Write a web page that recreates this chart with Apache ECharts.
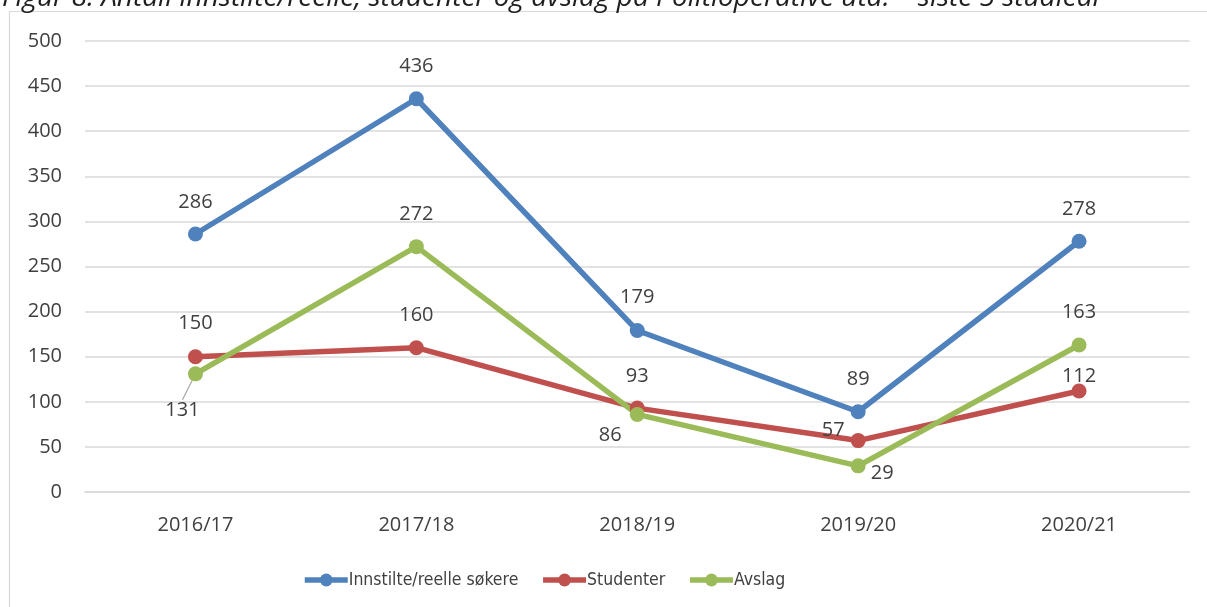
<!DOCTYPE html>
<html>
<head>
<meta charset="utf-8">
<script src="https://cdn.jsdelivr.net/npm/echarts@6/dist/echarts.min.js"></script>
<style>
html,body{margin:0;padding:0;background:#fff;}
#c{width:1207px;height:607px;}
</style>
</head>
<body>
<div id="c"></div>
<script>
const titleText = 'Figur 8: Antall innstilte/reelle, studenter og avslag på Politioperative utd. – siste 5 studieår';
const categories = ['2016/17', '2017/18', '2018/19', '2019/20', '2020/21'];
const seriesNames = ['Innstilte/reelle søkere', 'Studenter', 'Avslag'];
const innstilte = [286, 436, 179, 89, 278];
const studenter = [150, 160, 93, 57, 112];
const avslag = [131, 272, 86, 29, 163];
const yTicks = [0, 50, 100, 150, 200, 250, 300, 350, 400, 450, 500];

const colors = ['#4F81BD', '#C0504D', '#9BBB59'];
const FONT = "'Open Sans', sans-serif";
const NARROW = "'Liberation Sans Narrow', 'DejaVu Sans Condensed', sans-serif";
const TXT = '#404040';

// label offsets relative to the point (label center)
const labelOffsets = [
  [[0,-32],[0,-32],[0,-33],[0,-32],[0,-32]],
  [[0,-33],[0,-32],[0,-32],[-25,-10],[0,-15]],
  [[-13,36],[0,-32],[-27,21],[24,7],[0,-33]]
];
const leaderLines = [
  [false, false, false, false, false],
  [false, false, false, false, false],
  [true, false, false, false, false]
];

function series(idx, vals) {
  const color = colors[idx];
  return {
    name: seriesNames[idx],
    type: 'line',
    data: vals.map((v, i) => {
      const d = { value: v };
      if (leaderLines[idx][i]) {
        d.labelLine = { show: true, lineStyle: { color: '#A6A6A6', width: 1.2 } };
      }
      return d;
    }),
    symbol: 'circle',
    symbolSize: 15,
    lineStyle: { width: 5.5, color: color },
    itemStyle: { color: color },
    label: {
      show: true,
      position: 'inside',
      color: TXT,
      fontFamily: FONT,
      fontSize: 20,
      textBorderWidth: 0
    },
    labelLayout: function (p) {
      const o = labelOffsets[idx][p.dataIndex];
      return { dx: o[0], dy: o[1] };
    },
    emphasis: { disabled: true },
    animation: false
  };
}

const chart = echarts.init(document.getElementById('c'), null, { renderer: 'canvas' });
chart.setOption({
  backgroundColor: '#fff',
  animation: false,
  title: {
    text: titleText,
    left: -3,
    top: -21,
    textStyle: { fontFamily: FONT, fontStyle: 'italic', fontWeight: 'normal', fontSize: 28, color: '#1F1F1F' }
  },
  graphic: [{
    type: 'rect',
    shape: { x: 9.5, y: 11.5, width: 1220, height: 620 },
    style: { fill: null, stroke: '#D9D9D9', lineWidth: 1.2 },
    silent: true,
    z: -1
  }],
  grid: { left: 85, right: 17.5, top: 41, bottom: 115, containLabel: false },
  legend: {
    bottom: 13,
    left: 297,
    itemWidth: 43,
    itemHeight: 16,
    itemGap: 22,
    lineStyle: { width: 5.5 },
    textStyle: { fontFamily: NARROW, fontSize: 17.5, color: TXT, padding: [0, 0, 0, -4] },
    data: seriesNames
  },
  xAxis: {
    type: 'category',
    data: categories,
    boundaryGap: true,
    axisLine: { show: true, lineStyle: { color: '#D9D9D9', width: 1.5 } },
    axisTick: { show: false },
    axisLabel: { color: TXT, fontFamily: FONT, fontSize: 20, margin: 23 }
  },
  yAxis: {
    type: 'value',
    min: yTicks[0],
    max: yTicks[yTicks.length - 1],
    interval: 50,
    axisLine: { show: false },
    axisTick: { show: false },
    splitLine: { lineStyle: { color: '#D9D9D9', width: 1.5 } },
    axisLabel: { color: TXT, fontFamily: FONT, fontSize: 20, margin: 23 }
  },
  series: [
    series(0, innstilte),
    series(1, studenter),
    series(2, avslag)
  ]
});
</script>
</body>
</html>
